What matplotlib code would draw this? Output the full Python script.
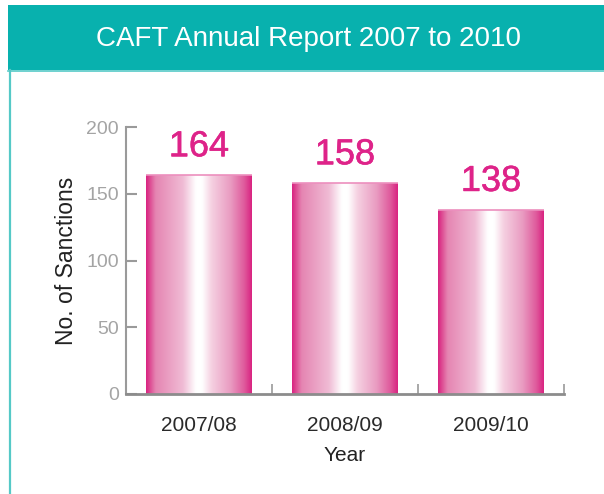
import numpy as np
import matplotlib
matplotlib.use("Agg")
import matplotlib.pyplot as plt
from matplotlib.colors import LinearSegmentedColormap
from matplotlib.patches import Rectangle
from matplotlib.lines import Line2D
import matplotlib.patheffects as pe

plt.rcParams['font.family'] = ['Liberation Sans', 'DejaVu Sans']

# Data
years = ["2007/08", "2008/09", "2009/10"]
sanctions = [164, 158, 138]
y_ticks = [0, 50, 100, 150, 200]

title = "CAFT Annual Report 2007 to 2010"
teal = "#08B1AE"
teal_light = "#55C9C7"
pink = "#DE2389"
grey = "#9A9A9A"

# pink -> white -> pink horizontal gradient
bar_cmap = LinearSegmentedColormap.from_list("pinkbar", [
    (0.00, "#D92381"), (0.04, "#DE4F95"), (0.09, "#E585B2"),
    (0.35, "#F0BCD5"), (0.47, "#FFFFFF"), (0.53, "#FFFFFF"),
    (0.62, "#F5D0E1"), (0.80, "#E99BC1"), (0.93, "#DF5A9C"),
    (1.00, "#D92381")])

fig = plt.figure(figsize=(6.04, 4.94), dpi=100)
W, H = 604, 494

# frame + header band
fig.add_artist(Line2D([9.5 / W, 9.5 / W], [0, 1 - 70 / H], color=teal_light, lw=1.6))
fig.add_artist(Line2D([8 / W, 1], [1 - 70.5 / H, 1 - 70.5 / H], color=teal_light, lw=1.2))
fig.add_artist(Rectangle((8 / W, 1 - 70 / H), 1 - 8 / W, 65 / H,
                         transform=fig.transFigure, color=teal, lw=0))
fig.text(309 / W, 1 - 46 / H, title, color="white", fontsize=20,
         ha="center", va="baseline")

ax = fig.add_axes([126 / W, 1 - 394 / H, 438 / W, (394 - 127.3) / H])
x = np.arange(len(years))
bars = ax.bar(x, sanctions, width=0.726, color="none", lw=0, zorder=2)

grad = np.linspace(0, 1, 256).reshape(1, -1)
for b, v in zip(bars, sanctions):
    x0, w = b.get_x(), b.get_width()
    im = ax.imshow(grad, cmap=bar_cmap, aspect="auto",
                   extent=[x0, x0 + w, 0, v], zorder=2, interpolation="bicubic")
    im.set_clip_path(b)
    ax.hlines(v, x0, x0 + w, color="#EC8FBE", lw=1.2, zorder=3)
    ax.annotate(str(v), (b.get_x() + w / 2, v), xytext=(0, 13.7),
                textcoords="offset points", ha="center", va="baseline",
                fontsize=26, color=pink,
                path_effects=[pe.withStroke(linewidth=0.4, foreground=pink)])

ax.set_xlim(-0.5, len(years) - 0.5)
ax.set_ylim(0, 200)
ax.set_yticks(y_ticks)
ax.set_xticks(x)
ax.set_xticklabels(years)
ax.set_xticks(x + 0.5, minor=True)

for s in ["top", "right"]:
    ax.spines[s].set_visible(False)
ax.spines["left"].set_color(grey)
ax.spines["left"].set_linewidth(1.5)
ax.spines["bottom"].set_color("#8C8C8C")
ax.spines["bottom"].set_linewidth(2)

ax.tick_params(axis="y", direction="in", length=8, width=1.5, color=grey,
               labelcolor="#A4A4A4", labelsize=14, pad=5)
ax.tick_params(axis="x", which="major", length=0, labelsize=15,
               labelcolor="#2A2A2A", pad=15.5)
ax.tick_params(axis="x", which="minor", direction="in", length=7, width=1.2,
               color=grey)

ax.set_xlabel("Year", fontsize=15, color="#222222", labelpad=8.6)
ax.set_ylabel("No. of Sanctions", fontsize=16.5, color="#222222", labelpad=6)

fig.savefig("out.png", dpi=100)
